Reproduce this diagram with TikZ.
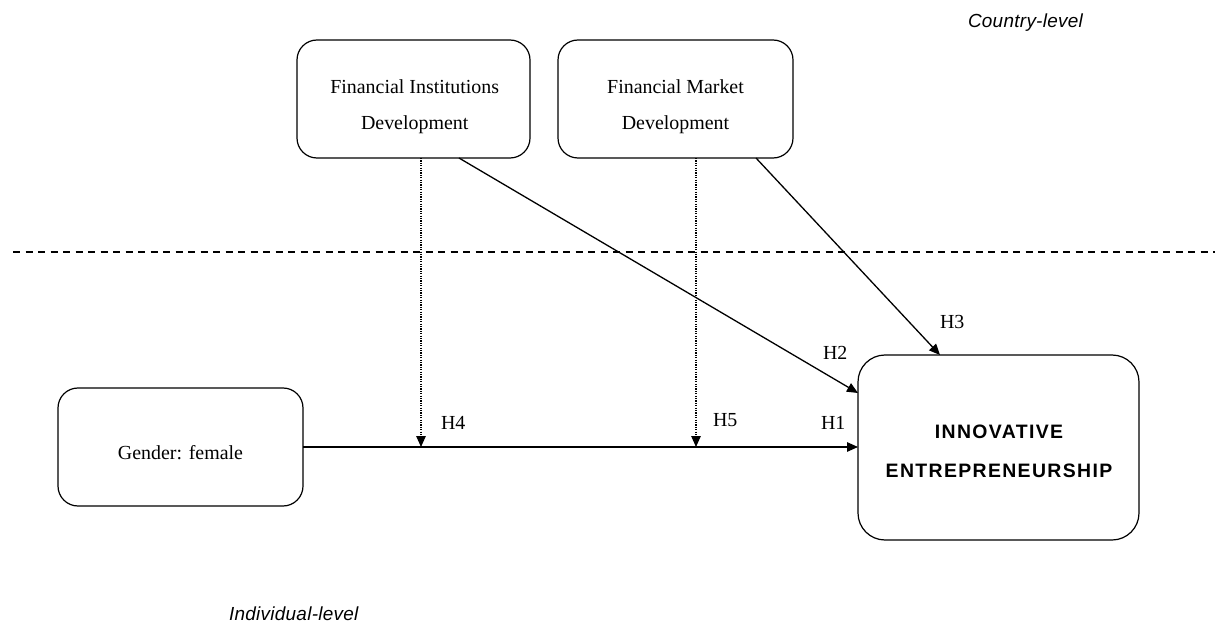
\documentclass[tikz,border=0pt]{standalone}
\usepackage{fontspec}
\setmainfont{Liberation Serif}
\setsansfont{Liberation Sans}
\newfontfamily\outcomefont[LetterSpace=7]{Liberation Sans}
\newfontfamily\levelfont[LetterSpace=1.5]{Liberation Sans}
\usetikzlibrary{arrows.meta}
\begin{document}
\begin{tikzpicture}[x=1bp,y=-1bp,
  every node/.style={inner sep=0pt, outer sep=0pt},
  box/.style={draw, line width=1.2bp, rounded corners=20bp},
  serif/.style={font=\fontsize{20}{37}\selectfont},
  outcome/.style={font=\outcomefont\bfseries\fontsize{19.5}{39}\selectfont},
  hyp/.style={font=\fontsize{20}{24}\selectfont, anchor=base west},
  level/.style={font=\levelfont\itshape\fontsize{19}{23}\selectfont, anchor=base west},
  link/.style={line width=1.3bp, -{Triangle[length=11bp,width=9.5bp]}},
  moderate/.style={link, dash pattern=on 1.2bp off 1.2bp},
  divider/.style={line width=1.3bp, dash pattern=on 7bp off 5.5bp}
]
\useasboundingbox (0,0) rectangle (1215,630);

% level labels and the divider between the two levels
\node[level] (country) at (968,28) {Country-level};
\node[level] (individual) at (229,620) {Individual-level};
\draw[divider] (13,252) -- (1215,252);

% boxes
\node[box, minimum width=233bp, minimum height=118bp] (fid) at (413.5,99) {};
\node[box, minimum width=235bp, minimum height=118bp] (fmd) at (675.5,99) {};
\node[box, minimum width=245bp, minimum height=118bp] (gen) at (180.5,447) {};
\node[box, rounded corners=27bp, minimum width=281bp, minimum height=185bp] (inn) at (998.5,447.5) {};

% box texts (base anchor sits on the last line)
\node[serif, align=center, anchor=base] (fidtext) at (414.7,130) {Financial Institutions\\Development};
\node[serif, align=center, anchor=base] (fmdtext) at (675.5,130) {Financial Market\\Development};
\node[serif, anchor=base] (gentext) at (180.5,459) {Gender: female};
\node[outcome, align=center, anchor=base] (inntext) at (999,477) {INNOVATIVE\\ENTREPRENEURSHIP};

% points where the moderating effects meet the main path
\coordinate (m4) at (421,447);
\coordinate (m5) at (696,447);

% paths
\draw[link] (gen.east) -- (gen.east -| inn.west);
\draw[moderate] (fid.south -| m4) -- (m4);
\draw[moderate] (fmd.south -| m5) -- (m5);
\draw[link] ([xshift=45.5bp]fid.south) -- ([yshift=54.5bp]inn.west);
\draw[link] ([xshift=80.5bp]fmd.south) -- ([xshift=-58.5bp]inn.north);

% hypothesis labels
\node[hyp] (h1) at (821,429) {H1};
\node[hyp] (h2) at (823,360) {H2};
\node[hyp] (h3) at (940,329) {H3};
\node[hyp] (h4) at (441,429) {H4};
\node[hyp] (h5) at (713,426) {H5};
\end{tikzpicture}
\end{document}
